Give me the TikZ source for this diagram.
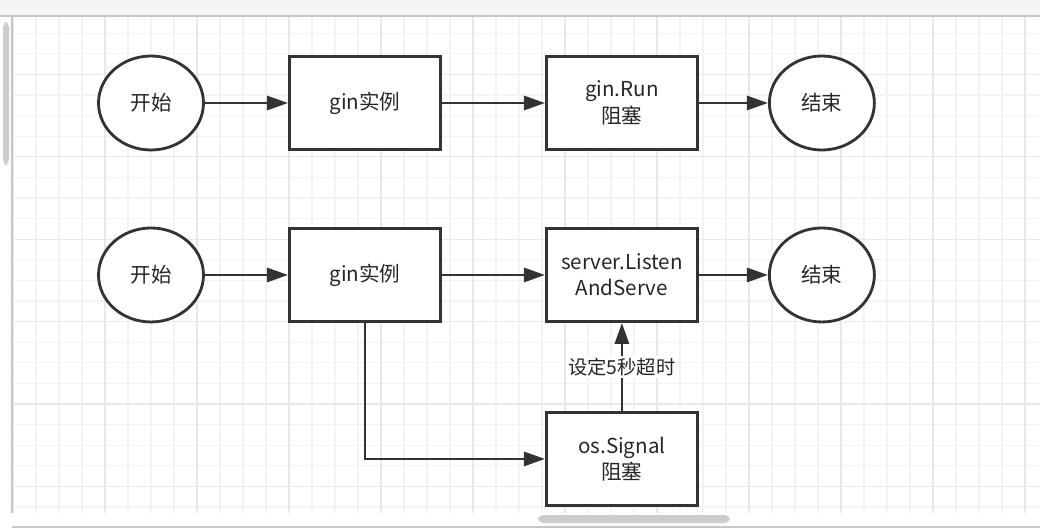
\documentclass[tikz,border=0pt]{standalone}
\usepackage{fontspec}
\setmainfont{Noto Sans CJK SC}
\usetikzlibrary{positioning, shapes.geometric, arrows.meta}

\definecolor{linegray}{HTML}{333333}
\definecolor{gridminor}{HTML}{F3F3F3}
\definecolor{gridmajor}{HTML}{E8E8E8}

\tikzset{
  box/.style={draw=linegray, line width=1.6pt, fill=white, text=black!85,
    minimum width=3.02cm, minimum height=1.86cm, align=center,
    font=\fontsize{11.7}{15}\selectfont},
  term/.style={ellipse, draw=linegray, line width=1.6pt, fill=white, text=black!85,
    minimum width=2.1cm, minimum height=1.88cm,
    font=\fontsize{11.7}{15}\selectfont},
  flow/.style={draw=linegray, line width=1.6pt, -{Triangle[length=12pt,width=8pt]}},
}

\begin{document}
\begin{tikzpicture}[x=0.02cm, y=-0.02cm]
   \useasboundingbox (0,0) rectangle (1040,531);
   % Hintergrund mit Raster
   \fill[white] (0,0) rectangle (1040,531);
   \foreach \k in {-4,...,40} {
     \pgfmathsetmacro{\gx}{105+23*\k}
     \ifdim\gx pt>12pt \draw[gridminor, line width=0.6pt] (\gx,17) -- (\gx,513); \fi
   }
   \foreach \k in {-18,...,5} {
     \pgfmathsetmacro{\gy}{404+20.6*\k}
     \ifdim\gy pt>17pt \ifdim\gy pt<513pt \draw[gridminor, line width=0.6pt] (12,\gy) -- (1040,\gy); \fi\fi
   }
   \foreach \k in {-1,...,10} {
     \pgfmathsetmacro{\gx}{105+92*\k}
     \ifdim\gx pt>12pt \draw[gridmajor, line width=0.6pt] (\gx,17) -- (\gx,513); \fi
   }
   \foreach \k in {-4,...,1} {
     \pgfmathsetmacro{\gy}{404+82.4*\k}
     \ifdim\gy pt>17pt \ifdim\gy pt<513pt \draw[gridmajor, line width=0.6pt] (12,\gy) -- (1040,\gy); \fi\fi
   }
   % Werkzeugleiste und Bildlaufleisten
   \fill[gray!8] (0,0) rectangle (1040,16);
   \draw[gray!45, line width=0.8pt] (0,16) -- (1040,16);
   \draw[gray!45, line width=0.8pt] (12,17) -- (12,513);
   \fill[gray!40, rounded corners=3pt] (3,22) rectangle (9,165);
   \fill[gray!40, rounded corners=3pt] (538,515) rectangle (730,523);
   \draw[gray!45, line width=0.8pt] (12,527) -- (1040,527);

   % Obere Reihe
   \node[term] (start1) at (151,103) {开始};
   \node[box]  (gin1)  [right=4.28cm of start1.center, anchor=center] {gin实例};
   \node[box]  (run)   [right=5.14cm of gin1.center, anchor=center] {gin.Run\\阻塞};
   \node[term] (end1)  [right=4cm of run.center, anchor=center] {结束};

   % Untere Reihe
   \node[term] (start2) [below=3.44cm of start1.center, anchor=center] {开始};
   \node[box]  (gin2)   [right=4.28cm of start2.center, anchor=center] {gin实例};
   \node[box]  (server) [right=5.14cm of gin2.center, anchor=center] {server.Listen\\AndServe};
   \node[term] (end2)   [right=4cm of server.center, anchor=center] {结束};
   \node[box]  (signal) [below=3.68cm of server.center, anchor=center] {os.Signal\\阻塞};

   % Verbindungen
   \draw[flow] (start1) -- (gin1);
   \draw[flow] (gin1) -- (run);
   \draw[flow] (run) -- (end1);
   \draw[flow] (start2) -- (gin2);
   \draw[flow] (gin2) -- (server);
   \draw[flow] (server) -- (end2);
   \draw[flow] (gin2.south) |- (signal.west);
   \draw[flow] (signal.north) -- node[fill=white, inner sep=1pt, text=black!85,
     font=\fontsize{11}{13}\selectfont] (timeout) {设定5秒超时} (server.south);
\end{tikzpicture}
\end{document}
